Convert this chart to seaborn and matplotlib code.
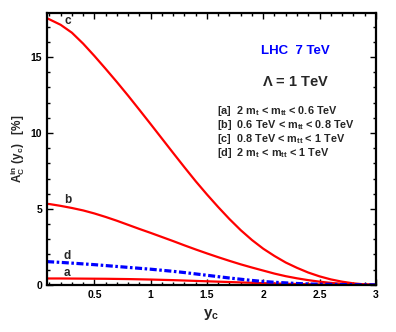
import numpy as np
import pandas as pd
import matplotlib
matplotlib.use("Agg")
import matplotlib.pyplot as plt
from matplotlib.ticker import MultipleLocator
import seaborn as sns

sns.set_style("ticks")
plt.rcParams['font.family'] = ['Liberation Sans', 'DejaVu Sans']
plt.rcParams['font.weight'] = 'bold'
plt.rcParams['axes.labelweight'] = 'bold'
plt.rcParams['mathtext.fontset'] = 'custom'
plt.rcParams['mathtext.rm'] = 'Liberation Sans:bold'
plt.rcParams['mathtext.it'] = 'Liberation Sans:bold'
plt.rcParams['mathtext.bf'] = 'Liberation Sans:bold'
plt.rcParams['mathtext.default'] = 'rm'

# values
yc = [0.08, 0.1, 0.2, 0.3, 0.4, 0.5, 0.6, 0.7, 0.8, 0.9, 1.0, 1.1, 1.2, 1.3, 1.4, 1.5,
      1.6, 1.7, 1.8, 1.9, 2.0, 2.1, 2.2, 2.3, 2.4, 2.5, 2.6, 2.7, 2.8, 2.9, 3.0]
curve_a = [0.42, 0.42, 0.42, 0.415, 0.41, 0.405, 0.40, 0.39, 0.38, 0.365, 0.35, 0.33, 0.31, 0.285, 0.26, 0.235,
           0.21, 0.185, 0.16, 0.135, 0.11, 0.09, 0.07, 0.055, 0.04, 0.03, 0.02, 0.012, 0.006, 0.002, 0.0]
curve_b = [5.33, 5.32, 5.20, 5.06, 4.90, 4.70, 4.47, 4.22, 3.95, 3.68, 3.42, 3.15, 2.88, 2.60, 2.33, 2.07,
           1.82, 1.58, 1.35, 1.14, 0.94, 0.74, 0.57, 0.43, 0.31, 0.21, 0.13, 0.07, 0.03, 0.01, 0.0]
curve_c = [17.55, 17.48, 17.12, 16.60, 15.88, 15.07, 14.22, 13.35, 12.45, 11.52, 10.58, 9.63, 8.68, 7.74, 6.82, 5.95,
           5.12, 4.33, 3.60, 2.95, 2.38, 1.90, 1.47, 1.12, 0.81, 0.56, 0.36, 0.21, 0.10, 0.03, 0.0]
curve_d = [1.53, 1.52, 1.48, 1.43, 1.38, 1.33, 1.27, 1.21, 1.15, 1.09, 1.03, 0.96, 0.89, 0.81, 0.72, 0.63,
           0.54, 0.45, 0.37, 0.29, 0.22, 0.17, 0.13, 0.09, 0.06, 0.04, 0.03, 0.02, 0.01, 0.004, 0.0]

df = pd.DataFrame({'yc': yc, 'a': curve_a, 'b': curve_b, 'c': curve_c, 'd': curve_d})

fig = plt.figure(figsize=(3.96, 3.32), dpi=100)
ax = fig.add_axes([0.119, 0.142, 0.830, 0.819])

for k in ['a', 'b', 'c']:
    sns.lineplot(data=df, x='yc', y=k, color='#ff0000', lw=1.6, ax=ax)
sns.lineplot(data=df, x='yc', y='d', color='#0000ff', lw=2.3, ax=ax)
ax.lines[-1].set_dashes([2.2, 0.8, 0.8, 0.8])

ax.set_xlim(0.08, 3.0)
ax.set_ylim(0, 17.9)
ax.xaxis.set_major_locator(MultipleLocator(0.5))
ax.xaxis.set_minor_locator(MultipleLocator(0.1))
ax.yaxis.set_major_locator(MultipleLocator(5))
ax.yaxis.set_minor_locator(MultipleLocator(1))
ax.tick_params(which='both', direction='in', top=True, right=True, width=1.0, labelsize=7.5, colors='black')
ax.tick_params(which='major', length=4.5)
ax.tick_params(which='minor', length=2.5)
ax.set_xticks([0.5, 1, 1.5, 2, 2.5, 3])
ax.set_xticklabels(['0.5', '1', '1.5', '2', '2.5', '3'])
ax.set_yticks([0, 5, 10, 15])
for sp in ax.spines.values():
    sp.set_linewidth(1.6)
    sp.set_color('black')

ax.set_xlabel(r'$y_c$', fontsize=11, labelpad=5)
ax.set_ylabel(r'$A_C^{in}\ (y_c)$   [%]', fontsize=8.5, fontweight='bold', labelpad=3)

for k, y in [('c', 17.35), ('b', 5.6), ('d', 1.9), ('a', 0.8)]:
    ax.text(0.26, y, k, fontsize=8.5, fontweight='bold', ha='center', va='center')

ax.text(0.755, 0.86, 'LHC  7 TeV', transform=ax.transAxes, color='#0000ff', fontsize=9.5,
        fontweight='bold', ha='center', va='center')
ax.text(0.755, 0.745, r'$\Lambda$ = 1 TeV', transform=ax.transAxes, fontsize=10.5,
        fontweight='bold', ha='center', va='center')
legend_rows = [r'[a]  2 m$_t$ < m$_{tt}$ < 0.6 TeV',
               r'[b]  0.6 TeV < m$_{tt}$ < 0.8 TeV',
               r'[c]  0.8 TeV < m$_{tt}$ < 1 TeV',
               r'[d]  2 m$_t$ < m$_{tt}$ < 1 TeV']
for i, t in enumerate(legend_rows):
    ax.text(0.517, 0.64 - i * 0.052, t, transform=ax.transAxes, fontsize=7.8,
            fontweight='bold', ha='left', va='center')

fig.savefig('out.png', dpi=100)
